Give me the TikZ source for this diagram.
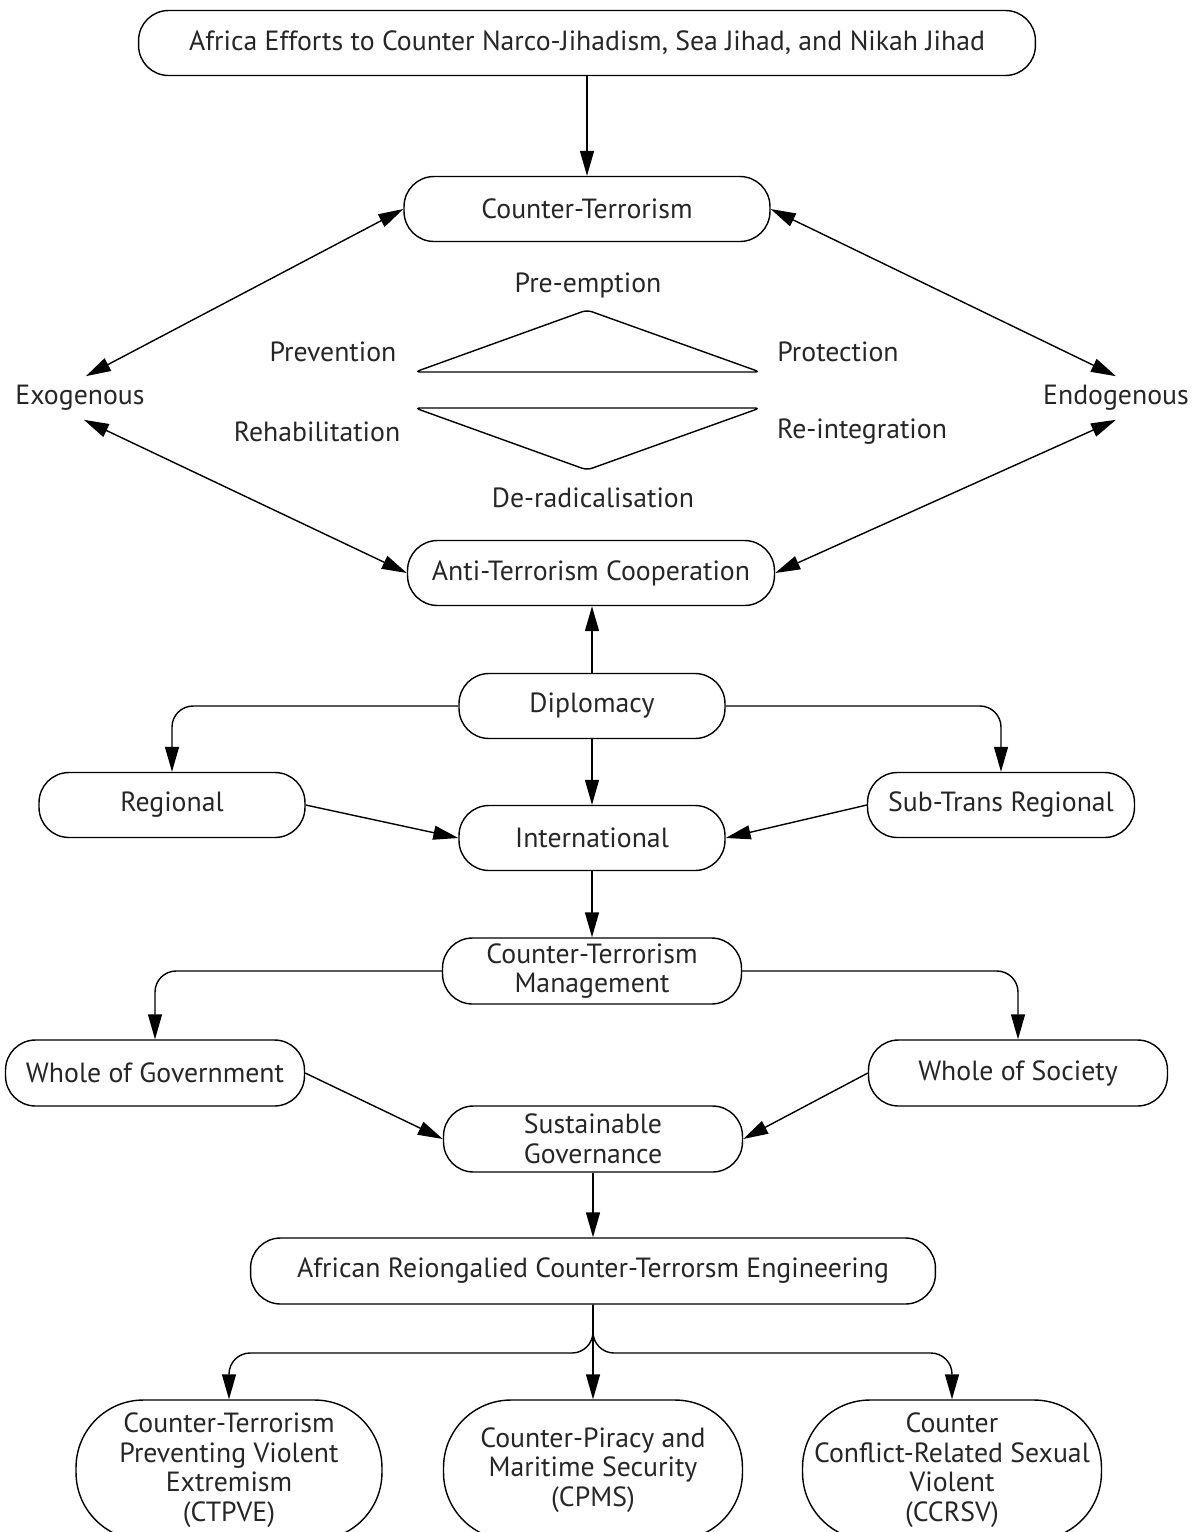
\documentclass[tikz,border=0pt]{standalone}
\usepackage{fontspec}
\setmainfont{PT Sans}
\usepackage{tikz}
\usetikzlibrary{arrows.meta}

\newcommand{\diagfont}{\fontsize{15.8pt}{16.8pt}\selectfont}

\begin{document}
\begin{tikzpicture}[
    x=0.02cm, y=-0.02cm,
    pill/.style={draw, line width=0.8pt, rounded corners=0.6cm, minimum height=1.3cm, align=center, font=\diagfont, text=black!85, inner sep=2pt},
    tall/.style={draw, line width=0.8pt, rounded corners=1.35cm, minimum height=2.8cm, align=center, font=\diagfont, text=black!85, inner sep=2pt},
    lbl/.style={font=\diagfont, text=black!85, inner sep=5pt},
    arrow/.style={-{Triangle[length=0.5cm,width=0.28cm]}, line width=0.8pt},
    dblarrow/.style={{Triangle[length=0.5cm,width=0.28cm]}-{Triangle[length=0.5cm,width=0.28cm]}, line width=0.8pt}
]
\useasboundingbox (0,0) rectangle (1198,1532);
\clip (0,0) rectangle (1198,1532);

% --- top of the chart ---
\node[pill, minimum width=17.94cm] (efforts) at (587,43) {Africa Efforts to Counter Narco-Jihadism, Sea Jihad, and Nikah Jihad};
\node[pill, minimum width=7.32cm] (ct) at (587,209) {Counter-Terrorism};
\node[pill, minimum width=7.34cm] (atc) at (591,573) {Anti-Terrorism Cooperation};

\node[lbl] (exo) at (80,398) {Exogenous};
\node[lbl] (endo) at (1116,398) {Endogenous};

\node[lbl] (pre) at (588,285) {Pre-emption};
\node[lbl] (prev) at (333,352) {Prevention};
\node[lbl] (prot) at (838,352) {Protection};
\node[lbl] (rehab) at (317,432) {Rehabilitation};
\node[lbl] (reint) at (862,432) {Re-integration};
\node[lbl] (derad) at (593,498) {De-radicalisation};

% the two triangles
\draw[line width=0.8pt, rounded corners=3pt] (415,372) -- (587,310) -- (760,372) -- cycle;
\draw[line width=0.8pt, rounded corners=3pt] (415,408) -- (760,408) -- (587,470) -- cycle;

\draw[arrow] (efforts) -- (ct);
\draw[dblarrow] (ct.west) -- (exo.75);
\draw[dblarrow] (ct.east) -- (endo.north);
\draw[dblarrow] (atc.west) -- (exo.-80);
\draw[dblarrow] (atc.east) -- (endo.south);

% --- diplomacy ---
\node[pill, minimum width=5.32cm] (diplo) at (592,706) {Diplomacy};
\node[pill, minimum width=5.32cm] (regional) at (172,805) {Regional};
\node[pill, minimum width=5.34cm] (subtrans) at (1001,805) {Sub-Trans Regional};
\node[pill, minimum width=5.32cm] (intl) at (592,838) {International};

\draw[arrow] (diplo) -- (diplo |- atc.south);
\draw[arrow, rounded corners=12pt] (diplo.west) -| (regional.north);
\draw[arrow, rounded corners=12pt] (diplo.east) -| (subtrans.north);
\draw[arrow] (diplo) -- (intl);
\draw[arrow] (regional.east) -- (intl.west);
\draw[arrow] (subtrans.west) -- (intl.east);

% --- management ---
\node[pill, minimum width=5.98cm, minimum height=1.32cm] (ctm) at (592,971) {Counter-Terrorism\\Management};
\node[pill, minimum width=5.98cm, minimum height=1.32cm] (wog) at (155,1073) {Whole of Government};
\node[pill, minimum width=5.98cm, minimum height=1.32cm] (wos) at (1018,1073) {Whole of Society};
\node[pill, minimum width=5.98cm, minimum height=1.32cm] (sg) at (593,1139) {Sustainable\\Governance};

\draw[arrow] (intl) -- (ctm);
\draw[arrow, rounded corners=12pt] (ctm.west) -| (wog.north);
\draw[arrow, rounded corners=12pt] (ctm.east) -| (wos.north);
\draw[arrow] (wog.east) -- (sg.west);
\draw[arrow] (wos.west) -- (sg.east);

% --- engineering ---
\node[pill, minimum width=13.7cm, minimum height=1.32cm] (arce) at (593,1271) {African Reiongalied Counter-Terrorsm Engineering};
\draw[arrow] (sg) -- (arce);

\node[tall, minimum width=6.12cm] (ctpve) at (229,1470) {Counter-Terrorism\\Preventing Violent\\Extremism\\(CTPVE)};
\node[tall, minimum width=5.98cm] (cpms) at (593,1470) {Counter-Piracy and\\Maritime Security\\(CPMS)};
\node[tall, minimum width=5.98cm] (ccrsv) at (952,1470) {Counter\\Conflict-Related Sexual\\Violent\\(CCRSV)};

\coordinate (fork) at (593,1353);
\draw[arrow, rounded corners=12pt] (arce.south) -- (fork) -| (ctpve.north);
\draw[arrow, rounded corners=12pt] (arce.south) -- (fork) -| (ccrsv.north);
\draw[arrow] (arce.south) -- (cpms.north);

\end{tikzpicture}
\end{document}
